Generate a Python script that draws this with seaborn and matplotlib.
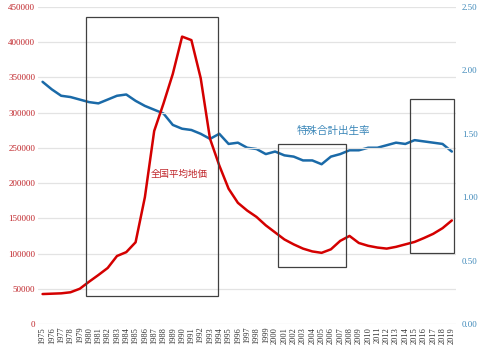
import matplotlib
matplotlib.use("Agg")
import matplotlib.pyplot as plt
import seaborn as sns
import pandas as pd
from matplotlib.patches import Rectangle

sns.set_theme(style="white")
plt.rcParams['font.family'] = ['Liberation Serif', 'Noto Sans CJK JP', 'DejaVu Sans']

years = list(range(1975, 2020))
land_price = [42500, 43000, 43500, 45000, 50000, 60000, 69500, 79500, 96500, 102000,
              116000, 180000, 274000, 313000, 355000, 408000, 403000, 349000, 263000, 225000,
              192000, 172000, 161000, 152000, 140000, 130000, 120000, 113000, 107000, 103000,
              101000, 106000, 118000, 125000, 115000, 111000, 108500, 107000, 109500, 113000,
              116500, 122000, 128000, 136000, 147000]
fertility = [1.91, 1.85, 1.80, 1.79, 1.77, 1.75, 1.74, 1.77, 1.80, 1.81,
             1.76, 1.72, 1.69, 1.66, 1.57, 1.54, 1.53, 1.50, 1.46, 1.50,
             1.42, 1.43, 1.39, 1.38, 1.34, 1.36, 1.33, 1.32, 1.29, 1.29,
             1.26, 1.32, 1.34, 1.37, 1.37, 1.39, 1.39, 1.41, 1.43, 1.42,
             1.45, 1.44, 1.43, 1.42, 1.36]
left_ticks = [0, 50000, 100000, 150000, 200000, 250000, 300000, 350000, 400000, 450000]
right_ticks = [0.0, 0.5, 1.0, 1.5, 2.0, 2.5]

# highlight boxes: (first year, last year, low, high) on the land price axis
boxes = [(1979.7, 1993.9, 39700, 435500),
         (2000.3, 2007.65, 80500, 256000),
         (2014.5, 2019.2, 100400, 319500)]

df = pd.DataFrame({"year": years, "land": land_price, "tfr": fertility})

red = "#d40000"
blue = "#1a6aa8"

fig = plt.figure(figsize=(4.8, 3.51), dpi=100)
ax = fig.add_axes([0.079, 0.077, 0.872, 0.903])
ax2 = ax.twinx()

sns.lineplot(data=df, x="year", y="tfr", ax=ax2, color=blue, linewidth=1.8)
sns.lineplot(data=df, x="year", y="land", ax=ax, color=red, linewidth=1.8)

ax.set_zorder(2)
ax.patch.set_visible(False)

ax.set_ylim(0, 450000)
ax2.set_ylim(0, 2.5)
ax.set_xlim(1974.5, 2019.5)
ax.set_yticks(left_ticks)
ax.set_yticklabels([str(v) for v in left_ticks], color="#c0262b", fontsize=6.5)
ax2.set_yticks(right_ticks)
ax2.set_yticklabels([f"{v:.2f}" for v in right_ticks], color="#3a86b8", fontsize=6.3)
ax.set_xticks(years)
ax.set_xticklabels([str(y) for y in years], rotation=90, fontsize=6, color="#333333")
ax.tick_params(axis="both", length=0, pad=2)
ax2.tick_params(axis="y", length=0, pad=4)

for v in left_ticks:
    ax.axhline(v, color="#e3e3e3", linewidth=0.9, zorder=0)
for a in (ax, ax2):
    for s in a.spines.values():
        s.set_visible(False)
ax.set_xlabel("")
ax.set_ylabel("")
ax2.set_ylabel("")

for x0, x1, y0, y1 in boxes:
    ax.add_patch(Rectangle((x0, y0), x1 - x0, y1 - y0, fill=False,
                           edgecolor="#404040", linewidth=0.9, zorder=5))

ax.text(1986.66, 213000, "全国平均地価", color="#c0262b", fontsize=6.8,
        family=['Noto Sans CJK JP', 'DejaVu Sans'], va="center")
ax.text(2002.3, 274000, "特殊合計出生率", color="#3a86b8", fontsize=7.6,
        family=['Noto Sans CJK JP', 'DejaVu Sans'], va="center")

fig.savefig("out.png", dpi=100)
